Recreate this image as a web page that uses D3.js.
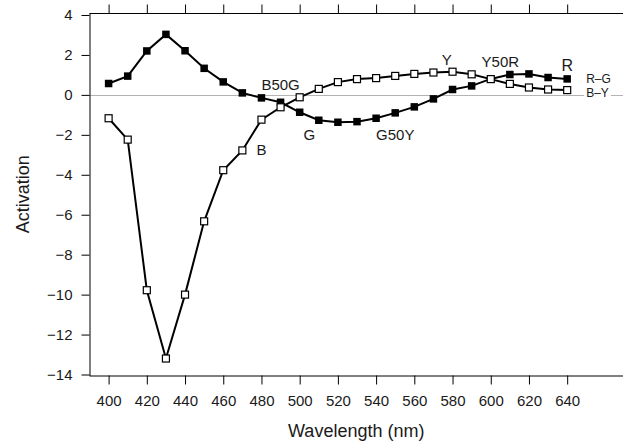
<!DOCTYPE html>
<html>
<head>
<meta charset="utf-8">
<script src="https://cdn.jsdelivr.net/npm/d3@7"></script>
<style>
  body { margin: 0; background: #fff; }
  svg { display: block; font-family: "Liberation Sans", Arial, sans-serif; }
</style>
</head>
<body>
<svg id="chart" width="623" height="441"></svg>
<script>
// wavelengths (nm)
const wavelengths = [400, 410, 420, 430, 440, 450, 460, 470, 480, 490, 500, 510, 520,
    530, 540, 550, 560, 570, 580, 590, 600, 610, 620, 630, 640];

// red-green channel (filled squares)
const redGreen = [0.57, 0.94, 2.2, 3.03, 2.21, 1.33, 0.65, 0.1, -0.15, -0.37, -0.87, -1.27, -1.37,
    -1.34, -1.17, -0.9, -0.6, -0.2, 0.27, 0.45, 0.8, 1.02, 1.05, 0.87, 0.8];

// blue-yellow channel (open squares)
const blueYellow = [-1.17, -2.24, -9.78, -13.2, -10.0, -6.33, -3.77, -2.78, -1.24, -0.62, -0.12, 0.3, 0.64,
    0.79, 0.84, 0.95, 1.05, 1.12, 1.16, 1.03, 0.79, 0.55, 0.37, 0.27, 0.24];

const xTicks = [400, 420, 440, 460, 480, 500, 520, 540, 560, 580, 600, 620, 640];
const yTicks = [4, 2, 0, -2, -4, -6, -8, -10, -12, -14];

// hue annotations placed in data units
const hueLabels = [
    { text: 'B50G', nm: 490, v: 0.24, size: 15 },
    { text: 'B', nm: 480, v: -3.03, size: 15 },
    { text: 'G', nm: 505, v: -2.24, size: 15 },
    { text: 'G50Y', nm: 550, v: -2.24, size: 15 },
    { text: 'Y', nm: 577, v: 1.49, size: 15 },
    { text: 'Y50R', nm: 605, v: 1.41, size: 15 },
    { text: 'R', nm: 640, v: 1.21, size: 16 }
];

const svg = d3.select('#chart');
const width = 623;
const margin = { top: 13, bottom: 375.5, left: 89.5 };

const x = d3.scaleLinear().domain([390, 670]).range([margin.left, margin.left + 535]);
const y = d3.scaleLinear().domain([-14.05, 4.1]).range([margin.bottom, margin.top]);

// zero reference line
svg.append('line')
    .attr('x1', margin.left).attr('x2', width)
    .attr('y1', Math.round(y(0)) + 0.5).attr('y2', Math.round(y(0)) + 0.5)
    .attr('stroke', '#b3b3b3').attr('stroke-width', 1);

// axes
const bottomAxis = svg.append('g')
    .attr('transform', `translate(0,${margin.bottom})`)
    .call(d3.axisBottom(x).tickValues(xTicks).tickSize(9).tickPadding(11).tickSizeOuter(0));

const topAxis = svg.append('g')
    .attr('transform', `translate(0,${margin.top + 0.5})`)
    .call(d3.axisTop(x).tickValues(xTicks).tickSize(9).tickSizeOuter(0).tickFormat(''));

const leftAxis = svg.append('g')
    .attr('transform', `translate(${margin.left},0)`)
    .call(d3.axisLeft(y).tickValues(yTicks).tickSize(8).tickPadding(9).tickSizeOuter(0));

[bottomAxis, topAxis, leftAxis].forEach(g => {
    g.select('.domain').attr('stroke', '#000');
    g.selectAll('.tick line').attr('stroke', '#000');
    g.selectAll('.tick text')
        .attr('font-family', '"Liberation Sans", Arial, sans-serif')
        .attr('font-size', 15).attr('fill', '#1a1a1a');
});
bottomAxis.select('.domain').attr('d', `M${margin.left},0.5H${width}`);
topAxis.select('.domain').attr('d', `M${margin.left},0H${width}`);

// axis titles
svg.append('text')
    .attr('x', (margin.left + width) / 2).attr('y', 437)
    .attr('text-anchor', 'middle').attr('font-size', 18).attr('fill', '#1a1a1a')
    .text('Wavelength (nm)');

svg.append('text')
    .attr('transform', `translate(28.5,${(margin.top + margin.bottom) / 2}) rotate(-90)`)
    .attr('text-anchor', 'middle').attr('font-size', 18).attr('fill', '#1a1a1a')
    .text('Activation');

const line = d3.line().x(d => x(d[0])).y(d => y(d[1]));
const rgData = wavelengths.map((w, i) => [w, redGreen[i]]);
const byData = wavelengths.map((w, i) => [w, blueYellow[i]]);

// R-G series
svg.append('path').datum(rgData)
    .attr('d', line).attr('fill', 'none').attr('stroke', '#000').attr('stroke-width', 2);
svg.selectAll('rect.rg').data(rgData).join('rect')
    .attr('class', 'rg')
    .attr('x', d => x(d[0]) - 3.75).attr('y', d => y(d[1]) - 3.75)
    .attr('width', 7.5).attr('height', 7.5).attr('fill', '#000');

// B-Y series
svg.append('path').datum(byData)
    .attr('d', line).attr('fill', 'none').attr('stroke', '#000').attr('stroke-width', 2);
svg.selectAll('rect.by').data(byData).join('rect')
    .attr('class', 'by')
    .attr('x', d => x(d[0]) - 3.5).attr('y', d => y(d[1]) - 3.5)
    .attr('width', 7).attr('height', 7)
    .attr('fill', '#fff').attr('stroke', '#000').attr('stroke-width', 1.2);

// hue annotations
svg.selectAll('text.hue').data(hueLabels).join('text')
    .attr('class', 'hue')
    .attr('x', d => x(d.nm)).attr('y', d => y(d.v))
    .attr('text-anchor', 'middle')
    .attr('font-size', d => d.size).attr('fill', '#1a1a1a')
    .text(d => d.text);

// series end labels
const endLabels = [
    { text: 'R\u2013G', v: redGreen[redGreen.length - 1], dy: 4 },
    { text: 'B\u2013Y', v: blueYellow[blueYellow.length - 1], dy: 7 }
];
endLabels.forEach(d => {
    const t = svg.append('text')
        .attr('x', x(640) + 19).attr('y', y(d.v) + d.dy)
        .attr('font-size', 12).attr('fill', '#1a1a1a')
        .text(d.text);
    const bb = t.node().getBBox();
    svg.insert('rect', function () { return t.node(); })
        .attr('x', bb.x - 2).attr('y', bb.y + 3).attr('width', bb.width + 4).attr('height', bb.height - 5)
        .attr('fill', '#fff');
});
</script>
</body>
</html>
